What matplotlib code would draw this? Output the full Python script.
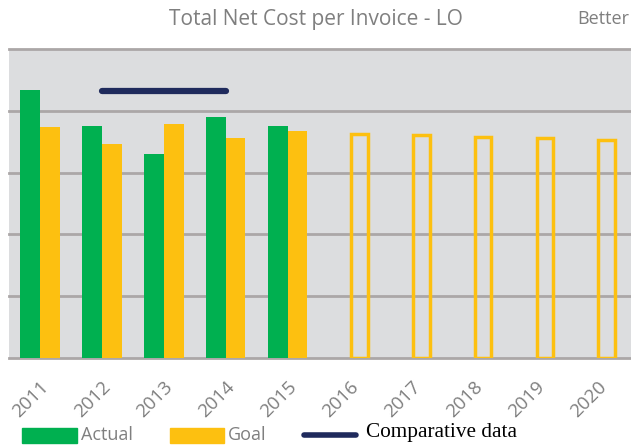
import numpy as np
import matplotlib.pyplot as plt
from matplotlib.patches import Rectangle
from matplotlib.lines import Line2D

# dane (jednostki siatki, bez opisu osi Y)
lata = ['2011', '2012', '2013', '2014', '2015', '2016', '2017', '2018', '2019', '2020']
actual = [4.34, 3.75, 3.30, 3.90, 3.75]
goal = [3.74, 3.46, 3.79, 3.56, 3.67]
goal_przyszly = [3.62, 3.61, 3.58, 3.56, 3.53]
porownanie_x = [1, 3]
porownanie_y = [4.32, 4.32]

zielony = '#00B050'
zolty = '#FDC010'
granat = '#1F2A5C'
szary_txt = '#7F7F7F'

fig = plt.figure(figsize=(6.31, 4.45), dpi=100)
ax = fig.add_axes([9 / 631, 1 - 358 / 445, 1 - 9 / 631, 309 / 445])
ax.set_facecolor('#DCDDDF')

x = np.arange(len(lata))
w = 0.32
n_akt = len(actual)

for yy in range(0, 6):
    ax.axhline(yy, color='#ABA7A7', lw=2, zorder=1, clip_on=False)

ax.bar(x[:n_akt] - w / 2, actual, width=w, color=zielony, zorder=2)
ax.bar(x[:n_akt] + w / 2, goal, width=w, color=zolty, zorder=2)
ax.bar(x[n_akt:] + w / 2, goal_przyszly, width=w * 0.85, facecolor='none',
       edgecolor=zolty, linewidth=2.5, zorder=2)
ax.plot(porownanie_x, porownanie_y, color=granat, lw=4.5, solid_capstyle='round', zorder=3)

ax.set_xlim(-0.5, len(lata) - 0.45)
ax.set_ylim(0, 5)
ax.set_yticks([])
ax.set_xticks(x)
ax.set_xticklabels(lata, rotation=45, ha='right', rotation_mode='anchor',
                   fontsize=13.5, color=szary_txt, family='Open Sans')
ax.tick_params(axis='x', length=0, pad=14)
for s in ax.spines.values():
    s.set_visible(False)

fig.text(0.5, 1 - 20 / 445, 'Total Net Cost per Invoice - LO', ha='center', va='center',
         fontsize=15, color=szary_txt, family='Open Sans')
fig.text(577 / 631, 1 - 19 / 445, 'Better', ha='left', va='center',
         fontsize=13, color=szary_txt, family='Open Sans')

# legenda na dole
fig.patches.append(Rectangle((22 / 631, 1 - 443 / 445), 55 / 631, 15 / 445,
                             transform=fig.transFigure, color=zielony))
fig.text(81 / 631, 1 - 435 / 445, 'Actual', va='center', fontsize=13,
         color=szary_txt, family='Open Sans')
fig.patches.append(Rectangle((170 / 631, 1 - 443 / 445), 54 / 631, 15 / 445,
                             transform=fig.transFigure, color=zolty))
fig.text(228 / 631, 1 - 435 / 445, 'Goal', va='center', fontsize=13,
         color=szary_txt, family='Open Sans')
fig.lines.append(Line2D([304 / 631, 356 / 631], [1 - 435 / 445, 1 - 435 / 445],
                        transform=fig.transFigure, color=granat, lw=4,
                        solid_capstyle='round'))
fig.text(366 / 631, 1 - 433 / 445, 'Comparative data', va='center', fontsize=15.3,
         color='black', family='Liberation Serif')

fig.savefig('out.png', dpi=100)
